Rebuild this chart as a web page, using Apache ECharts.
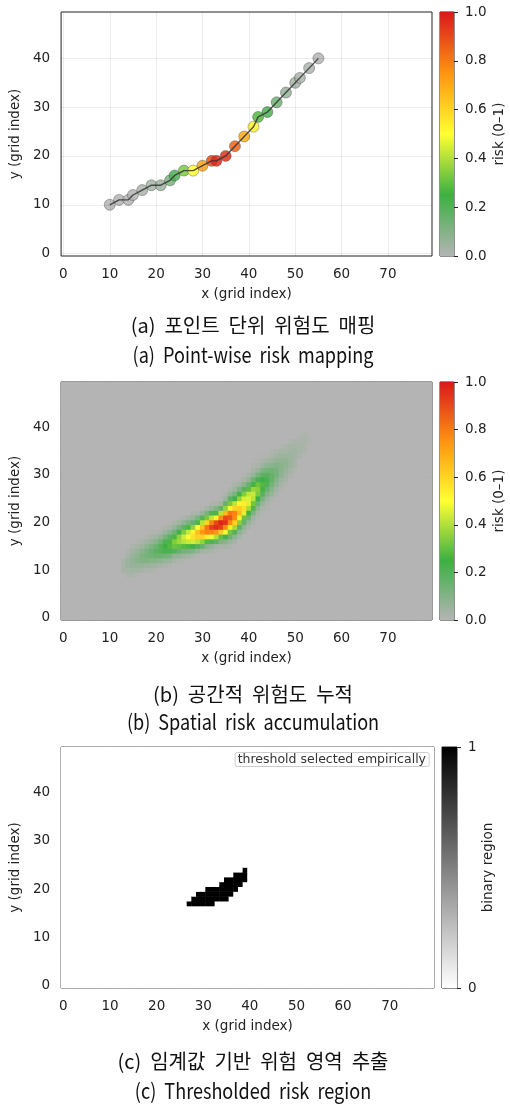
<!DOCTYPE html>
<html>
<head>
<meta charset="utf-8">
<script src="https://cdn.jsdelivr.net/npm/echarts@6/dist/echarts.min.js"></script>
<style>
  html, body { margin: 0; padding: 0; background: #fff; }
  #chart { width: 510px; height: 1110px; }
</style>
</head>
<body>
<div id="chart"></div>
<script>
  // grid size in cells
  const nx = 80
  const ny = 50

  // (a) path points and their risk
  const pathX = [10, 12, 14, 15, 17, 19, 21, 23, 24, 26, 28, 30, 32, 33, 35, 37, 39, 41, 42, 44, 46, 48, 50, 51, 53, 55]
  const pathY = [10, 11, 11, 12, 13, 14, 14, 15, 16, 17, 17, 18, 19, 19, 20, 22, 24, 26, 28, 29, 31, 33, 35, 36, 38, 40]
  const pathRisk = [0, 0, 0, 0, 0.02, 0.03, 0.05, 0.12, 0.22, 0.33, 0.5, 0.72, 0.9, 0.97, 0.95, 0.85, 0.7, 0.52, 0.28, 0.22, 0.14, 0.06, 0.03, 0.02, 0.01, 0]

  const xTicks = [0, 10, 20, 30, 40, 50, 60, 70]
  const yTicks = [0, 10, 20, 30, 40]

  // (b) accumulated risk, in percent: [x, first y, values going up...]
  const heatCols = [
    [13, 10, 3, 3, 3],
    [14, 9, 2, 3, 5, 5, 3, 2],
    [15, 9, 2, 4, 6, 7, 6, 4, 2],
    [16, 9, 1, 4, 6, 9, 8, 6, 3, 1],
    [17, 10, 3, 6, 10, 11, 9, 5, 2],
    [18, 10, 2, 5, 10, 13, 12, 8, 4, 1],
    [19, 10, 2, 5, 9, 14, 15, 11, 6, 3, 1],
    [20, 10, 1, 4, 9, 15, 18, 15, 9, 4, 1],
    [21, 11, 3, 8, 15, 20, 20, 14, 7, 2],
    [22, 11, 2, 6, 14, 22, 25, 21, 12, 5, 2],
    [23, 11, 1, 5, 12, 22, 28, 27, 18, 9, 3],
    [24, 12, 3, 7, 20, 31, 34, 27, 15, 6, 2],
    [25, 12, 1, 7, 16, 30, 38, 36, 24, 12, 4, 1],
    [26, 12, 1, 5, 13, 28, 41, 44, 34, 18, 8, 2],
    [27, 13, 4, 12, 27, 43, 51, 43, 27, 12, 4],
    [28, 13, 2, 10, 24, 44, 57, 53, 36, 17, 6, 2],
    [29, 13, 1, 7, 20, 41, 61, 65, 50, 27, 11, 2],
    [30, 14, 4, 16, 36, 61, 74, 65, 41, 19, 6, 1],
    [31, 14, 3, 9, 28, 55, 79, 81, 60, 33, 12, 3],
    [32, 14, 2, 6, 21, 48, 78, 92, 78, 42, 21, 6, 2],
    [33, 14, 1, 3, 17, 40, 74, 96, 90, 52, 27, 10, 2],
    [34, 15, 2, 10, 30, 62, 92, 98, 76, 41, 17, 4, 1],
    [35, 15, 3, 9, 23, 48, 77, 95, 90, 66, 36, 16, 5, 2],
    [36, 15, 2, 5, 15, 32, 55, 77, 88, 81, 52, 33, 18, 7, 2],
    [37, 16, 3, 8, 20, 39, 60, 76, 78, 60, 42, 24, 12, 5, 2],
    [38, 17, 3, 8, 18, 35, 53, 66, 62, 52, 36, 23, 11, 4, 1],
    [39, 18, 3, 7, 16, 31, 46, 57, 54, 45, 34, 19, 9, 3, 1],
    [40, 19, 2, 6, 14, 26, 39, 46, 46, 42, 29, 16, 7, 3],
    [41, 20, 2, 4, 11, 20, 32, 41, 43, 37, 26, 15, 6, 3, 1],
    [42, 21, 1, 3, 8, 15, 25, 33, 35, 31, 22, 13, 6, 2, 1],
    [43, 22, 1, 2, 6, 12, 19, 26, 28, 25, 18, 11, 5, 2, 1],
    [44, 23, 1, 2, 5, 10, 16, 21, 22, 19, 13, 8, 4, 1],
    [45, 25, 2, 5, 9, 13, 16, 16, 14, 9, 5, 2, 1],
    [46, 26, 2, 4, 7, 10, 13, 12, 10, 7, 4, 2],
    [47, 27, 1, 3, 5, 8, 9, 9, 7, 5, 3, 1],
    [48, 28, 1, 3, 4, 6, 7, 7, 5, 3, 2],
    [49, 30, 2, 3, 5, 5, 5, 4, 3, 1],
    [50, 31, 1, 3, 3, 4, 4, 3, 2],
    [51, 34, 2, 3, 3, 2, 1],
    [52, 35, 2, 2, 2, 2, 1],
    [53, 37, 1, 1]
  ]

  // (c) thresholded cells: [y, first x, last x]
  const maskRows = [
    [17, 27, 32],
    [18, 28, 35],
    [19, 29, 36],
    [20, 31, 37],
    [21, 34, 38],
    [22, 35, 39],
    [23, 37, 39],
    [24, 39, 39]
  ]

  const riskColors = ['#b4b4b4', '#3cb043', '#ffff33', '#ff9410', '#d8191c']

  const captions = [
    ['(a)  포인트  단위  위험도  매핑', '(a)  Point-wise  risk  mapping'],
    ['(b)  공간적  위험도  누적', '(b)  Spatial  risk  accumulation'],
    ['(c)  임계값  기반  위험  영역  추출', '(c)  Thresholded  risk  region']
  ]

  const xCats = []
  for (let i = 0; i < nx; i++) xCats.push(String(i))
  const yCats = []
  for (let i = 0; i < ny; i++) yCats.push(String(i))

  // layout of the three panels
  const panels = [
    {left: 59, top: 12, width: 373, height: 244, cbLeft: 440, cbWidth: 14, capY: [325, 355], bg: 'transparent'},
    {left: 59, top: 382, width: 373, height: 238, cbLeft: 440, cbWidth: 14, capY: [694, 722], bg: riskColors[0]},
    {left: 61, top: 747, width: 373, height: 241, cbLeft: 442, cbWidth: 15, capY: [1061, 1091], bg: '#ffffff'}
  ]

  const ink = '#222'
  const tickFont = {fontFamily: 'DejaVu Sans', fontSize: 13.5, color: ink}
  const nameFont = {fontFamily: 'DejaVu Sans', fontSize: 13.5, color: ink}

  const scatterData = pathX.map((x, i) => [x, pathY[i], pathRisk[i]])
  const lineData = pathX.map((x, i) => [x, pathY[i]])

  const heatVals = {}
  heatCols.forEach(c => {
    for (let k = 2; k < c.length; k++) heatVals[c[0] + ',' + (c[1] + k - 2)] = c[k] / 100
  })
  const heatData = []
  const maskData = []
  for (let x = 0; x < nx; x++) {
    for (let y = 0; y < ny; y++) {
      heatData.push([x, y, heatVals[x + ',' + y] || 0])
      let m = 0
      maskRows.forEach(r => { if (r[0] === y && x >= r[1] && x <= r[2]) m = 1 })
      maskData.push([x, y, m])
    }
  }

  const grids = []
  const xAxes = []
  const yAxes = []
  panels.forEach((p, i) => {
    grids.push({left: p.left, top: p.top, width: p.width, height: p.height,
      show: true, borderColor: '#222', borderWidth: 1, backgroundColor: p.bg})
    grids.push({left: p.cbLeft, top: p.top, width: p.cbWidth, height: p.height,
      show: true, borderColor: '#222', borderWidth: 1, backgroundColor: 'transparent'})

    xAxes.push({
      gridIndex: 2 * i, type: 'category', data: xCats, boundaryGap: true,
      axisLine: {show: false},
      axisTick: {interval: 9, alignWithLabel: true, length: 4, lineStyle: {color: ink}},
      axisLabel: Object.assign({interval: 9, margin: 11}, tickFont),
      splitLine: {show: false},
      name: 'x (grid index)', nameLocation: 'middle', nameGap: 31,
      nameTextStyle: nameFont
    })
    yAxes.push({
      gridIndex: 2 * i, type: 'category', data: yCats, boundaryGap: true,
      axisLine: {show: false},
      axisTick: {interval: 9, alignWithLabel: true, length: 4, lineStyle: {color: ink}},
      axisLabel: Object.assign({interval: 9, margin: 11}, tickFont),
      splitLine: {show: false},
      name: 'y (grid index)', nameLocation: 'middle', nameGap: 28, nameRotate: 90,
      nameTextStyle: nameFont
    })

    // colorbar axes
    xAxes.push({gridIndex: 2 * i + 1, type: 'category', data: ['cb'], show: false})
    const binary = i === 2
    yAxes.push({
      gridIndex: 2 * i + 1, type: 'value', position: 'right', min: 0, max: 1,
      interval: binary ? 1 : 0.2,
      axisLine: {show: false},
      axisTick: {show: true, length: 4, lineStyle: {color: ink}},
      axisLabel: Object.assign({margin: 11, formatter: v => binary ? String(v) : v.toFixed(1)}, tickFont),
      splitLine: {show: false},
      name: binary ? 'binary region' : 'risk (0–1)', nameLocation: 'middle',
      nameGap: binary ? 24 : 38, nameRotate: 90,
      nameTextStyle: nameFont
    })
  })

  const gradStops = (cols) => cols.map((c, k) => ({offset: k / (cols.length - 1), color: c}))
  const colorbar = (gi, cols) => ({
    type: 'bar', xAxisIndex: gi, yAxisIndex: gi, data: [1], barWidth: '100%', silent: true,
    itemStyle: {color: {type: 'linear', x: 0, y: 1, x2: 0, y2: 0, colorStops: gradStops(cols)}}
  })

  const series = [
    // faint grid of panel (a)
    {
      type: 'line', xAxisIndex: 0, yAxisIndex: 0, data: [], z: 1, silent: true,
      markLine: {
        silent: true, symbol: 'none', label: {show: false}, animation: false,
        lineStyle: {color: 'rgba(0,0,0,0.07)', type: 'solid', width: 1},
        data: xTicks.map(v => ({xAxis: v})).concat(yTicks.map(v => ({yAxis: v})))
      }
    },
    {
      type: 'scatter', xAxisIndex: 0, yAxisIndex: 0, data: scatterData, symbolSize: 11, z: 2,
      itemStyle: {opacity: 0.85, borderColor: 'rgba(70,70,70,0.6)', borderWidth: 0.8}
    },
    {
      type: 'line', xAxisIndex: 0, yAxisIndex: 0, data: lineData, z: 3, showSymbol: false,
      lineStyle: {color: 'rgba(50,50,50,0.85)', width: 1.4}
    },
    colorbar(1, riskColors),
    {
      type: 'heatmap', xAxisIndex: 2, yAxisIndex: 2, data: heatData, progressive: 0, silent: true
    },
    colorbar(3, riskColors),
    {
      type: 'heatmap', xAxisIndex: 4, yAxisIndex: 4, data: maskData, progressive: 0, silent: true
    },
    colorbar(5, ['#ffffff', '#000000'])
  ]

  const graphic = []
  panels.forEach((p, i) => {
    graphic.push({type: 'text', x: 253, y: p.capY[0], silent: true,
      style: {text: captions[i][0], font: '20px "Noto Sans CJK KR"', fill: '#111',
        align: 'center', verticalAlign: 'middle'}})
    graphic.push({type: 'text', x: 253, y: p.capY[1], silent: true, scaleX: 0.86,
      style: {text: captions[i][1], font: '21px "Noto Sans CJK KR"', fill: '#111',
        align: 'center', verticalAlign: 'middle'}})
  })

  const chart = echarts.init(document.getElementById('chart'))
  chart.setOption({
    animation: false,
    backgroundColor: '#fff',
    title: {
      text: 'threshold selected empirically', right: 81, top: 752,
      padding: [1, 3], borderColor: '#cccccc', borderWidth: 1, borderRadius: 2,
      backgroundColor: '#fff',
      textStyle: {fontFamily: 'DejaVu Sans', fontSize: 12.5, fontWeight: 'normal', color: '#333', lineHeight: 13}
    },
    grid: grids,
    xAxis: xAxes,
    yAxis: yAxes,
    visualMap: [
      {type: 'continuous', show: false, seriesIndex: [1, 4], dimension: 2, min: 0, max: 1,
        inRange: {color: riskColors}},
      {type: 'continuous', show: false, seriesIndex: 6, dimension: 2, min: 0, max: 1,
        inRange: {color: ['#ffffff', '#000000']}}
    ],
    graphic: graphic,
    series: series
  })
</script>
</body>
</html>
